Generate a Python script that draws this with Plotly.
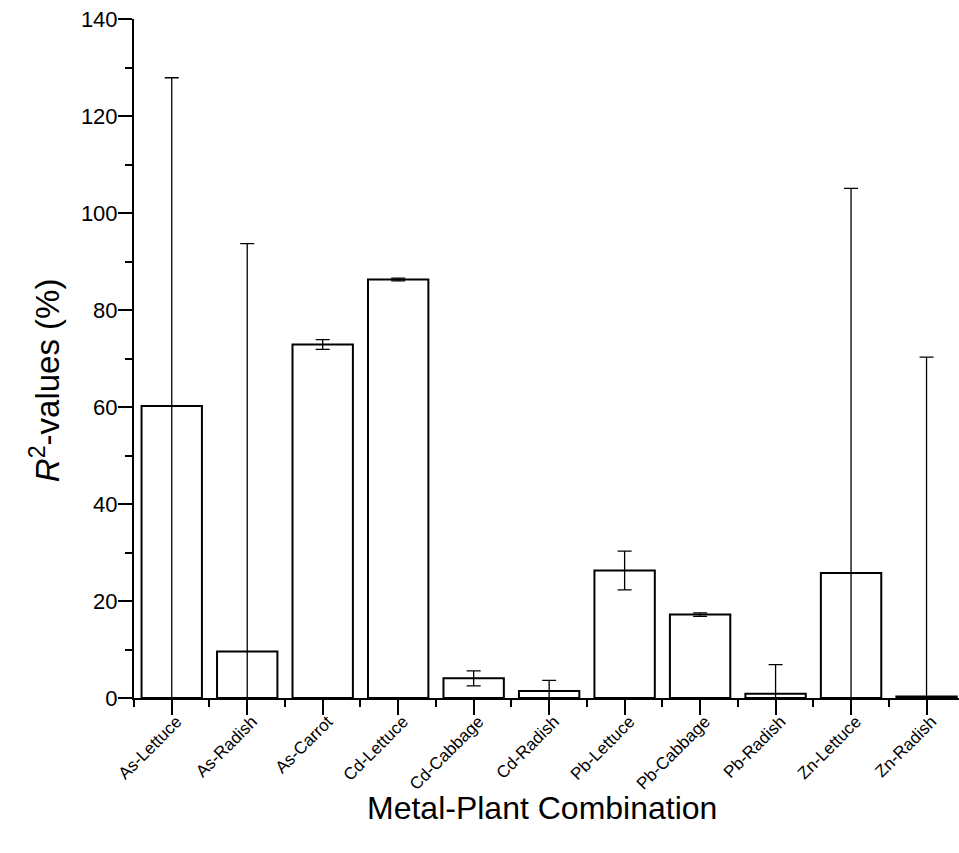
import plotly.graph_objects as go

categories = ["As-Lettuce", "As-Radish", "As-Carrot", "Cd-Lettuce", "Cd-Cabbage",
              "Cd-Radish", "Pb-Lettuce", "Pb-Cabbage", "Pb-Radish", "Zn-Lettuce", "Zn-Radish"]
r2_values = [60.2, 9.6, 72.9, 86.3, 4.05, 1.45, 26.3, 17.2, 0.9, 25.8, 0.3]
r2_errors = [67.7, 84.1, 1.0, 0.3, 1.55, 2.2, 4.0, 0.35, 6.0, 79.3, 70.0]
y_ticks = [0, 20, 40, 60, 80, 100, 120, 140]

font_family = "Arial, Liberation Sans, sans-serif"
x_pos = list(range(len(categories)))

fig = go.Figure()
fig.add_trace(go.Bar(
    x=x_pos, y=r2_values, width=0.8,
    marker=dict(color="white", line=dict(color="black", width=2)),
    error_y=dict(type="data", array=r2_errors, symmetric=True,
                 color="black", thickness=1.3, width=7),
    showlegend=False,
))

fig.update_layout(
    width=959, height=853,
    margin=dict(l=134, r=0, t=19, b=155, autoexpand=False),
    paper_bgcolor="white", plot_bgcolor="white",
    font=dict(family=font_family, color="black"),
    xaxis=dict(
        range=[-0.5, 10.43], tickmode="array", tickvals=x_pos, ticktext=categories,
        tickangle=-45, tickfont=dict(size=17), ticks="outside", ticklen=15, tickwidth=2,
        tickcolor="black", showline=True, linecolor="black", linewidth=2,
        ticklabelstandoff=-10, ticklabelshift=5,
        showgrid=False, zeroline=False, automargin=False,
        minor=dict(tick0=-0.5, dtick=1, ticks="outside", ticklen=7, tickwidth=2, tickcolor="black"),
    ),
    yaxis=dict(
        range=[0, 140.02], tickmode="array", tickvals=y_ticks,
        tickfont=dict(size=22), ticks="outside", ticklen=14, tickwidth=2,
        tickcolor="black", showline=True, linecolor="black", linewidth=2,
        ticklabelstandoff=-4,
        showgrid=False, zeroline=False, automargin=False,
        minor=dict(tick0=0, dtick=10, ticks="outside", ticklen=7, tickwidth=2, tickcolor="black"),
    ),
    annotations=[
        dict(text="Metal-Plant Combination", xref="paper", yref="paper",
             x=0.4945, y=-0.162, xanchor="center", yanchor="middle",
             showarrow=False, font=dict(size=32)),
        dict(text="<i>R</i><sup>2</sup>-values (%)", xref="paper", yref="paper",
             x=-0.108, y=0.468, xanchor="center", yanchor="middle", textangle=-90,
             showarrow=False, font=dict(size=33)),
    ],
)

fig.write_html("out.html", config={"displayModeBar": False},
               post_script="document.body.style.margin='0';")
